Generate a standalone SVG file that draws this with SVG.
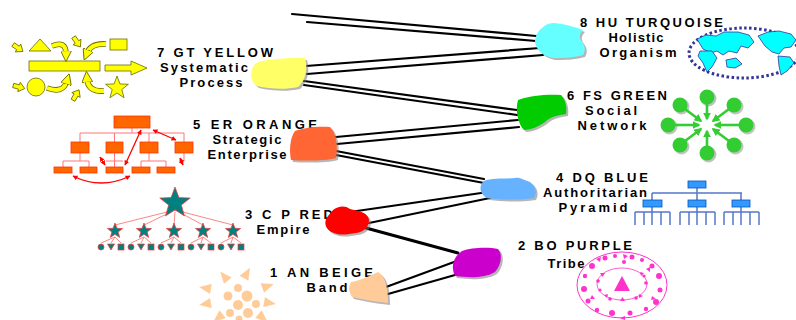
<svg xmlns="http://www.w3.org/2000/svg" xmlns:xlink="http://www.w3.org/1999/xlink" width="796" height="320" viewBox="0 0 796 320">
  <style>
    .t { font-family: "Liberation Sans", Arial, sans-serif; font-weight: bold; font-size: 13px; fill: #000; }
    .c { text-anchor: middle; }
    .ln { stroke: #000; stroke-width: 2.2; fill: none; stroke-linecap: round; }
    .sh { fill: #7a7a7a; opacity: 0.55; }
    .yel { fill: #FFFF00; stroke: #6b6b00; stroke-width: 0.8; }
    .org { fill: #FF6600; stroke: #FF3300; stroke-width: 0.8; }
    .teal { fill: #008080; stroke: #FF3333; stroke-width: 0.7; }
    .beige { fill: #FFCC99; }
    .grn { fill: #33CC33; }
    .blu { fill: #3399FF; stroke: #0055BB; stroke-width: 0.8; }
    .pink { fill: #FF33CC; }
  </style>
  <defs>
    <path id="star" d="M0,-1 L0.247,-0.34 L0.951,-0.309 L0.399,0.13 L0.588,0.809 L0,0.42 L-0.588,0.809 L-0.399,0.13 L-0.951,-0.309 L-0.247,-0.34 Z" vector-effect="non-scaling-stroke"/>
    <path id="sarrow" d="M-6,-2.2 L0,-2.2 L0,-4.8 L6,0 L0,4.8 L0,2.2 L-6,2.2 Z"/>
    <path id="btri" d="M-6,-5 L6,0 L-6,5 Z"/>
    <marker id="ya" viewBox="0 0 10 10" refX="3" refY="5" markerWidth="11" markerHeight="11" markerUnits="userSpaceOnUse" orient="auto">
      <path d="M0,0 L10,5 L0,10 Z" fill="#FFFF00" stroke="#6b6b00" stroke-width="0.8"/>
    </marker>
    <marker id="ra" viewBox="0 0 10 10" refX="9" refY="5" markerWidth="5" markerHeight="5" markerUnits="userSpaceOnUse" orient="auto-start-reverse">
      <path d="M0,0 L10,5 L0,10 Z" fill="#FF0000"/>
    </marker>
    <marker id="ga" viewBox="0 0 10 10" refX="8" refY="5" markerWidth="8" markerHeight="8" markerUnits="userSpaceOnUse" orient="auto">
      <path d="M0,0 L10,5 L0,10 Z" fill="#33CC33"/>
    </marker>
  </defs>

  <rect width="796" height="320" fill="#fff"/>

  <!-- double-line spiral connecting the levels -->
  <g id="connectors">
    <path class="ln" d="M292,14 L536,36"/>
    <path class="ln" d="M307,22 L536,41"/>
    <path class="ln" d="M306,66 L540,48"/>
    <path class="ln" d="M307,74 L543,55"/>
    <path class="ln" d="M304,81 L517,110"/>
    <path class="ln" d="M304,85 L517,115"/>
    <path class="ln" d="M336,137 L518,120"/>
    <path class="ln" d="M337,144 L519,127"/>
    <path class="ln" d="M336,151 L484,179"/>
    <path class="ln" d="M336,155 L484,183"/>
    <path class="ln" d="M350,212 L488,192"/>
    <path class="ln" d="M369,223 L490,198"/>
    <path class="ln" d="M366,228 L458,253" style="stroke-width:3"/>
    <path class="ln" d="M454,262 L386,287"/>
    <path class="ln" d="M455,275 L388,294"/>
  </g>

  <!-- 8 turquoise -->
  <g id="n8">
    <text class="t" x="580" y="27" textLength="143" lengthAdjust="spacing">8 HU TURQUOISE</text>
    <text class="t c" x="636" y="42" textLength="55" lengthAdjust="spacing">Holistic</text>
    <text class="t c" x="638" y="57" textLength="77" lengthAdjust="spacing">Organism</text>
    <path class="sh" transform="translate(2,2)" d="M542,28 C546,24 550,23 554,23 C565,24 575,27 583,30 C579,34 579,38 582,42 C585,46 586,50 583,55 C572,58 562,58 553,58 C543,56 536,50 535,42 C535,36 538,31 542,28 Z"/>
    <path fill="#66FFFF" d="M542,28 C546,24 550,23 554,23 C565,24 575,27 583,30 C579,34 579,38 582,42 C585,46 586,50 583,55 C572,58 562,58 553,58 C543,56 536,50 535,42 C535,36 538,31 542,28 Z"/>
    <!-- globe -->
    <ellipse cx="744" cy="53" rx="55" ry="25" fill="none" stroke="#333399" stroke-width="3" stroke-dasharray="2.5 2.5"/>
    <g fill="#00FFFF" stroke="#333399" stroke-width="0.8">
      <path d="M697,39 L706,35 L716,36 L724,32 L738,32 L749,35 L754,42 L748,48 L741,46 L737,53 L729,51 L723,55 L717,51 L711,53 L703,49 Z"/>
      <path d="M700,51 L712,51 L717,58 L712,67 L707,72 L703,63 L698,56 Z"/>
      <path d="M726,60 L736,58 L742,64 L735,68 L727,67 Z"/>
      <path d="M758,36 L768,32 L779,31 L791,34 L796,40 L791,47 L784,48 L779,54 L772,52 L765,46 Z"/>
      <path d="M778,56 L790,57 L794,63 L787,71 L781,75 L779,66 Z"/>
    </g>
  </g>

  <!-- 7 yellow -->
  <g id="n7">
    <text class="t" x="157" y="57" textLength="116" lengthAdjust="spacing">7 GT YELLOW</text>
    <text class="t c" x="204" y="72" textLength="88" lengthAdjust="spacing">Systematic</text>
    <text class="t c" x="211" y="87" textLength="63" lengthAdjust="spacing">Process</text>
    <path class="sh" transform="translate(2,2)" d="M256,63 C270,58 290,58 305,58 C308,68 306,80 298,87 C285,90 270,89 257,86 C250,82 249,70 256,63 Z"/>
    <path fill="#FFFF66" d="M256,63 C270,58 290,58 305,58 C308,68 306,80 298,87 C285,90 270,89 257,86 C250,82 249,70 256,63 Z"/>
    <!-- elements being organised -->
    <g class="yel">
      <polygon points="29,51 40,39 51,51"/>
      <rect x="110" y="39" width="17" height="11"/>
      <rect x="29" y="61" width="71" height="10"/>
      <circle cx="36" cy="87" r="9"/>
      <use href="#star" transform="translate(117,88) scale(12)"/>
      <polygon points="105,65 131,65 131,61 147,68 131,75 131,71 105,71"/>
      <use href="#sarrow" transform="translate(18,48) rotate(35)"/>
      <use href="#sarrow" transform="translate(77,42) rotate(55)"/>
      <use href="#sarrow" transform="translate(19,87) rotate(15)"/>
      <use href="#sarrow" transform="translate(76,95) rotate(-60)"/>
    </g>
    <g fill="none" stroke-linecap="butt">
      <path d="M52,46 Q66,40 66,54" stroke="#6b6b00" stroke-width="5.6"/>
      <path d="M52,46 Q66,40 66,54" stroke="#FFFF00" stroke-width="4" marker-end="url(#ya)"/>
      <path d="M106,44 Q91,43 87,53" stroke="#6b6b00" stroke-width="5.6"/>
      <path d="M106,44 Q91,43 87,53" stroke="#FFFF00" stroke-width="4" marker-end="url(#ya)"/>
      <path d="M47,88 Q63,94 67,81" stroke="#6b6b00" stroke-width="5.6"/>
      <path d="M47,88 Q63,94 67,81" stroke="#FFFF00" stroke-width="4" marker-end="url(#ya)"/>
      <path d="M104,91 Q88,92 87,79" stroke="#6b6b00" stroke-width="5.6"/>
      <path d="M104,91 Q88,92 87,79" stroke="#FFFF00" stroke-width="4" marker-end="url(#ya)"/>
    </g>
  </g>

  <!-- 6 green -->
  <g id="n6">
    <text class="t" x="567" y="100" textLength="100" lengthAdjust="spacing">6 FS GREEN</text>
    <text class="t c" x="611" y="115" textLength="52" lengthAdjust="spacing">Social</text>
    <text class="t c" x="612" y="130" textLength="69" lengthAdjust="spacing">Network</text>
    <path class="sh" transform="translate(2,2)" d="M518,100 C530,95 550,94 561,95 C566,100 567,108 566,114 C558,115 550,117 545,122 C538,127 530,130 524,130 C518,124 515,110 518,100 Z"/>
    <path fill="#00CC00" d="M518,100 C530,95 550,94 561,95 C566,100 567,108 566,114 C558,115 550,117 545,122 C538,127 530,130 524,130 C518,124 515,110 518,100 Z"/>
    <!-- network of nodes -->
    <g transform="translate(707,125)">
      <g transform="translate(1.5,1.5)" fill="#999" stroke="#999" opacity="0.6">
        <circle cx="0" cy="-28" r="7.5"/><circle cx="27" cy="-20" r="7.5"/><circle cx="39" cy="0" r="7.5"/><circle cx="27" cy="20" r="7.5"/>
        <circle cx="0" cy="28" r="7.5"/><circle cx="-27" cy="20" r="7.5"/><circle cx="-39" cy="0" r="7.5"/><circle cx="-27" cy="-20" r="7.5"/>
      </g>
      <g class="grn">
        <circle cx="0" cy="-28" r="7.5"/><circle cx="27" cy="-20" r="7.5"/><circle cx="39" cy="0" r="7.5"/><circle cx="27" cy="20" r="7.5"/>
        <circle cx="0" cy="28" r="7.5"/><circle cx="-27" cy="20" r="7.5"/><circle cx="-39" cy="0" r="7.5"/><circle cx="-27" cy="-20" r="7.5"/>
      </g>
      <g stroke="#33CC33" stroke-width="2.6" fill="none" marker-end="url(#ga)">
        <path d="M0,-22 L0,-6"/><path d="M22,-16 L6,-4"/><path d="M32,0 L8,0"/><path d="M22,16 L6,4"/>
        <path d="M0,22 L0,6"/><path d="M-22,16 L-6,4"/><path d="M-32,0 L-8,0"/><path d="M-22,-16 L-6,-4"/>
      </g>
    </g>
  </g>

  <!-- 5 orange -->
  <g id="n5">
    <text class="t" x="193" y="129" textLength="124" lengthAdjust="spacing">5 ER ORANGE</text>
    <text class="t c" x="247" y="144" textLength="69" lengthAdjust="spacing">Strategic</text>
    <text class="t c" x="247" y="159" textLength="79" lengthAdjust="spacing">Enterprise</text>
    <path class="sh" transform="translate(2,2)" d="M295,131 C305,127 320,126 330,127 C336,133 338,145 336,158 C325,161 305,161 291,160 C289,150 290,138 295,131 Z"/>
    <path fill="#FF6633" d="M295,131 C305,127 320,126 330,127 C336,133 338,145 336,158 C325,161 305,161 291,160 C289,150 290,138 295,131 Z"/>
    <!-- organisation chart -->
    <g fill="none" stroke="#FF7777" stroke-width="1">
      <path d="M132,128 V133 M80,133 H184 M80,133 V142 M114.5,133 V142 M149,133 V142 M184,133 V142"/>
      <path d="M80,153 V161 M63,161 H89 M63,161 V167 M89,161 V167"/>
      <path d="M114.5,153 V167 M106,161 H123"/>
      <path d="M149,153 V161 M141,161 H166 M141,161 V167 M166,161 V167"/>
      <path d="M184,153 V161"/>
    </g>
    <g class="org">
      <rect x="114" y="116" width="36" height="12"/>
      <rect x="71" y="142" width="18" height="11"/>
      <rect x="106" y="142" width="17" height="11"/>
      <rect x="140" y="142" width="18" height="11"/>
      <rect x="175" y="142" width="18" height="11"/>
      <rect x="54" y="167" width="18" height="6"/>
      <rect x="80" y="167" width="17" height="6"/>
      <rect x="106" y="167" width="17" height="6"/>
      <rect x="132" y="167" width="18" height="6"/>
      <rect x="157" y="167" width="18" height="6"/>
    </g>
    <g fill="none" stroke="#FF0000" stroke-width="1.3" marker-start="url(#ra)" marker-end="url(#ra)">
      <path d="M141,130 L125,165"/>
      <path d="M153,130 L176,140"/>
      <path d="M100,157 L105,165"/>
      <path d="M180,158 L183,165"/>
      <path d="M73,176 Q101,190 130,176"/>
    </g>
  </g>

  <!-- 4 blue -->
  <g id="n4">
    <text class="t" x="556" y="182" textLength="92" lengthAdjust="spacing">4 DQ BLUE</text>
    <text class="t c" x="595" y="197" textLength="104" lengthAdjust="spacing">Authoritarian</text>
    <text class="t c" x="593" y="212" textLength="69" lengthAdjust="spacing">Pyramid</text>
    <path class="sh" transform="translate(2,2)" d="M484,181 C492,178 505,179 515,178 C520,177 523,180 530,182 C536,186 537,193 534,198 C520,200 500,200 488,198 C480,195 478,186 484,181 Z"/>
    <path fill="#66B2FF" d="M484,181 C492,178 505,179 515,178 C520,177 523,180 530,182 C536,186 537,193 534,198 C520,200 500,200 488,198 C480,195 478,186 484,181 Z"/>
    <!-- hierarchy -->
    <g fill="none" stroke="#5577CC" stroke-width="1.5">
      <path d="M697,188 V193 M652,193 H742 M652,193 V200 M697,193 V200 M741,193 V200"/>
      <path d="M652,207 V225 M635,212 H670 M635,212 V225 M644,212 V225 M661,212 V225 M670,212 V225"/>
      <path d="M697,207 V225 M680,212 H715 M680,212 V225 M689,212 V225 M706,212 V225 M715,212 V225"/>
      <path d="M741,207 V225 M724,212 H759 M724,212 V225 M733,212 V225 M750,212 V225 M759,212 V225"/>
    </g>
    <g class="blu">
      <rect x="688" y="181" width="18" height="7"/>
      <rect x="643" y="200" width="19" height="7"/>
      <rect x="688" y="200" width="18" height="7"/>
      <rect x="732" y="200" width="18" height="7"/>
    </g>
  </g>

  <!-- 3 red -->
  <g id="n3">
    <text class="t" x="245" y="219" textLength="88" lengthAdjust="spacing">3 C P RED</text>
    <text class="t c" x="283" y="234" textLength="53" lengthAdjust="spacing">Empire</text>
    <path class="sh" transform="translate(2,2)" d="M333,210 C338,206 345,205 350,209 C358,211 368,212 369,220 C369,227 364,232 356,233 C348,234 342,236 334,233 C325,230 323,222 328,216 Z"/>
    <path fill="#FF0000" d="M333,210 C338,206 345,205 350,209 C358,211 368,212 369,220 C369,227 364,232 356,233 C348,234 342,236 334,233 C325,230 323,222 328,216 Z"/>
    <!-- star hierarchy -->
    <g stroke="#FF7777" stroke-width="0.9" fill="none">
      <path d="M175,210 L115,225 M175,210 L144,225 M175,212 L174,225 M175,210 L203,225 M175,210 L233,225"/>
      <path d="M115,237 L101,243 M115,237 L111,243 M115,237 L121,243"/>
      <path d="M144,237 L131,243 M144,237 L141,243 M144,237 L151,243"/>
      <path d="M174,237 L161,243 M174,237 L171,243 M174,237 L181,243"/>
      <path d="M203,237 L191,243 M203,237 L201,243 M203,237 L211,243"/>
      <path d="M233,237 L221,243 M233,237 L231,243 M233,237 L241,243"/>
    </g>
    <g class="teal">
      <use href="#star" transform="translate(175,203) scale(16)"/>
      <use href="#star" transform="translate(115,231) scale(8)"/>
      <use href="#star" transform="translate(144,231) scale(8)"/>
      <use href="#star" transform="translate(174,231) scale(8)"/>
      <use href="#star" transform="translate(203,231) scale(8)"/>
      <use href="#star" transform="translate(233,231) scale(8)"/>
      <circle cx="101" cy="247" r="3"/><path d="M107.5,244 L114.5,244 L111,250 Z"/><rect x="118" y="244" width="6" height="6"/>
      <circle cx="131" cy="247" r="3"/><path d="M137.5,244 L144.5,244 L141,250 Z"/><rect x="148" y="244" width="6" height="6"/>
      <circle cx="161" cy="247" r="3"/><path d="M167.5,244 L174.5,244 L171,250 Z"/><rect x="178" y="244" width="6" height="6"/>
      <circle cx="191" cy="247" r="3"/><path d="M197.5,244 L204.5,244 L201,250 Z"/><rect x="208" y="244" width="6" height="6"/>
      <circle cx="221" cy="247" r="3"/><path d="M227.5,244 L234.5,244 L231,250 Z"/><rect x="238" y="244" width="6" height="6"/>
    </g>
  </g>

  <!-- 2 purple -->
  <g id="n2">
    <text class="t" x="518" y="250" textLength="114" lengthAdjust="spacing">2 BO PURPLE</text>
    <text class="t c" x="566" y="268" textLength="37" lengthAdjust="spacing">Tribe</text>
    <path class="sh" transform="translate(2,2)" d="M462,251 C472,247 490,247 498,249 C503,255 501,265 495,272 C485,278 470,278 455,276 C451,268 452,258 462,251 Z"/>
    <path fill="#CC00CC" d="M462,251 C472,247 490,247 498,249 C503,255 501,265 495,272 C485,278 470,278 455,276 C451,268 452,258 462,251 Z"/>
    <!-- tribal circle -->
    <ellipse cx="622" cy="285" rx="45" ry="33" fill="none" stroke="#FF33CC" stroke-width="1"/>
    <ellipse cx="622" cy="284" rx="25" ry="16" fill="none" stroke="#FF33CC" stroke-width="0.8"/>
    <path class="pink" d="M622,276 L630,291 L614,291 Z"/>
    <g class="pink">
      <circle cx="605" cy="258" r="2.5"/><circle cx="615" cy="256" r="2"/><circle cx="632" cy="257" r="2.5"/><circle cx="642" cy="260" r="2"/>
      <circle cx="592" cy="266" r="3"/><circle cx="652" cy="266" r="2.5"/><circle cx="585" cy="276" r="2.2"/><circle cx="659" cy="276" r="3"/>
      <circle cx="584" cy="289" r="3"/><circle cx="660" cy="290" r="2.5"/><circle cx="588" cy="301" r="2.5"/><circle cx="656" cy="302" r="3"/>
      <circle cx="597" cy="310" r="2.2"/><circle cx="612" cy="313" r="3"/><circle cx="630" cy="313" r="2.5"/><circle cx="646" cy="309" r="2.2"/>
      <circle cx="598" cy="281" r="1.8"/><circle cx="646" cy="283" r="1.8"/><circle cx="610" cy="299" r="1.8"/><circle cx="636" cy="298" r="1.8"/>
      <circle cx="624" cy="262" r="2"/><circle cx="600" cy="290" r="1.6"/><circle cx="644" cy="276" r="1.6"/>
      <path d="M596,259 l5,-2 l-1,5 Z"/><path d="M623,254 l5,2 l-4,3 Z"/><path d="M646,269 l4,-2 l0,5 Z"/>
      <path d="M600,273 l5,0 l-2.5,4 Z"/><path d="M640,272 l4,1 l-3,3 Z"/><path d="M604,295 l4,-1 l-1,4 Z"/>
      <path d="M639,294 l4,2 l-4,2 Z"/><path d="M620,301 l5,0 l-2.5,-4 Z"/><path d="M592,295 l3,4 l-5,0 Z"/>
      <path d="M652,296 l4,3 l-5,1 Z"/><path d="M620,318 l5,-2 l0,4 Z"/>
    </g>
  </g>

  <!-- 1 beige -->
  <g id="n1">
    <text class="t" x="270" y="277" textLength="103" lengthAdjust="spacing">1 AN BEIGE</text>
    <text class="t c" x="327" y="292" textLength="41" lengthAdjust="spacing">Band</text>
    <path class="sh" transform="translate(2,2)" d="M351,282 C358,281 368,277 378,272 C386,276 388,290 388,303 C378,302 365,300 352,297 C349,292 348,288 351,282 Z"/>
    <path fill="#FFCC99" d="M351,282 C358,281 368,277 378,272 C386,276 388,290 388,303 C378,302 365,300 352,297 C349,292 348,288 351,282 Z"/>
    <!-- gathering of people -->
    <g class="beige">
      <circle cx="238" cy="288" r="4"/><circle cx="228" cy="296" r="4.5"/><circle cx="247" cy="296" r="5.5"/>
      <circle cx="238" cy="305" r="5"/><circle cx="256" cy="304" r="4"/><circle cx="230" cy="313" r="4"/>
      <circle cx="248" cy="313" r="5"/><circle cx="239" cy="319" r="3.5"/>
      <use href="#btri" transform="translate(205,288) rotate(190)"/>
      <use href="#btri" transform="translate(224,276) rotate(230)"/>
      <use href="#btri" transform="translate(247,273) rotate(-60)"/>
      <use href="#btri" transform="translate(268,286) rotate(-20)"/>
      <use href="#btri" transform="translate(205,304) rotate(170)"/>
      <use href="#btri" transform="translate(270,303) rotate(10)"/>
      <use href="#btri" transform="translate(218,318) rotate(140)"/>
      <use href="#btri" transform="translate(263,318) rotate(40)"/>
    </g>
  </g>
</svg>
